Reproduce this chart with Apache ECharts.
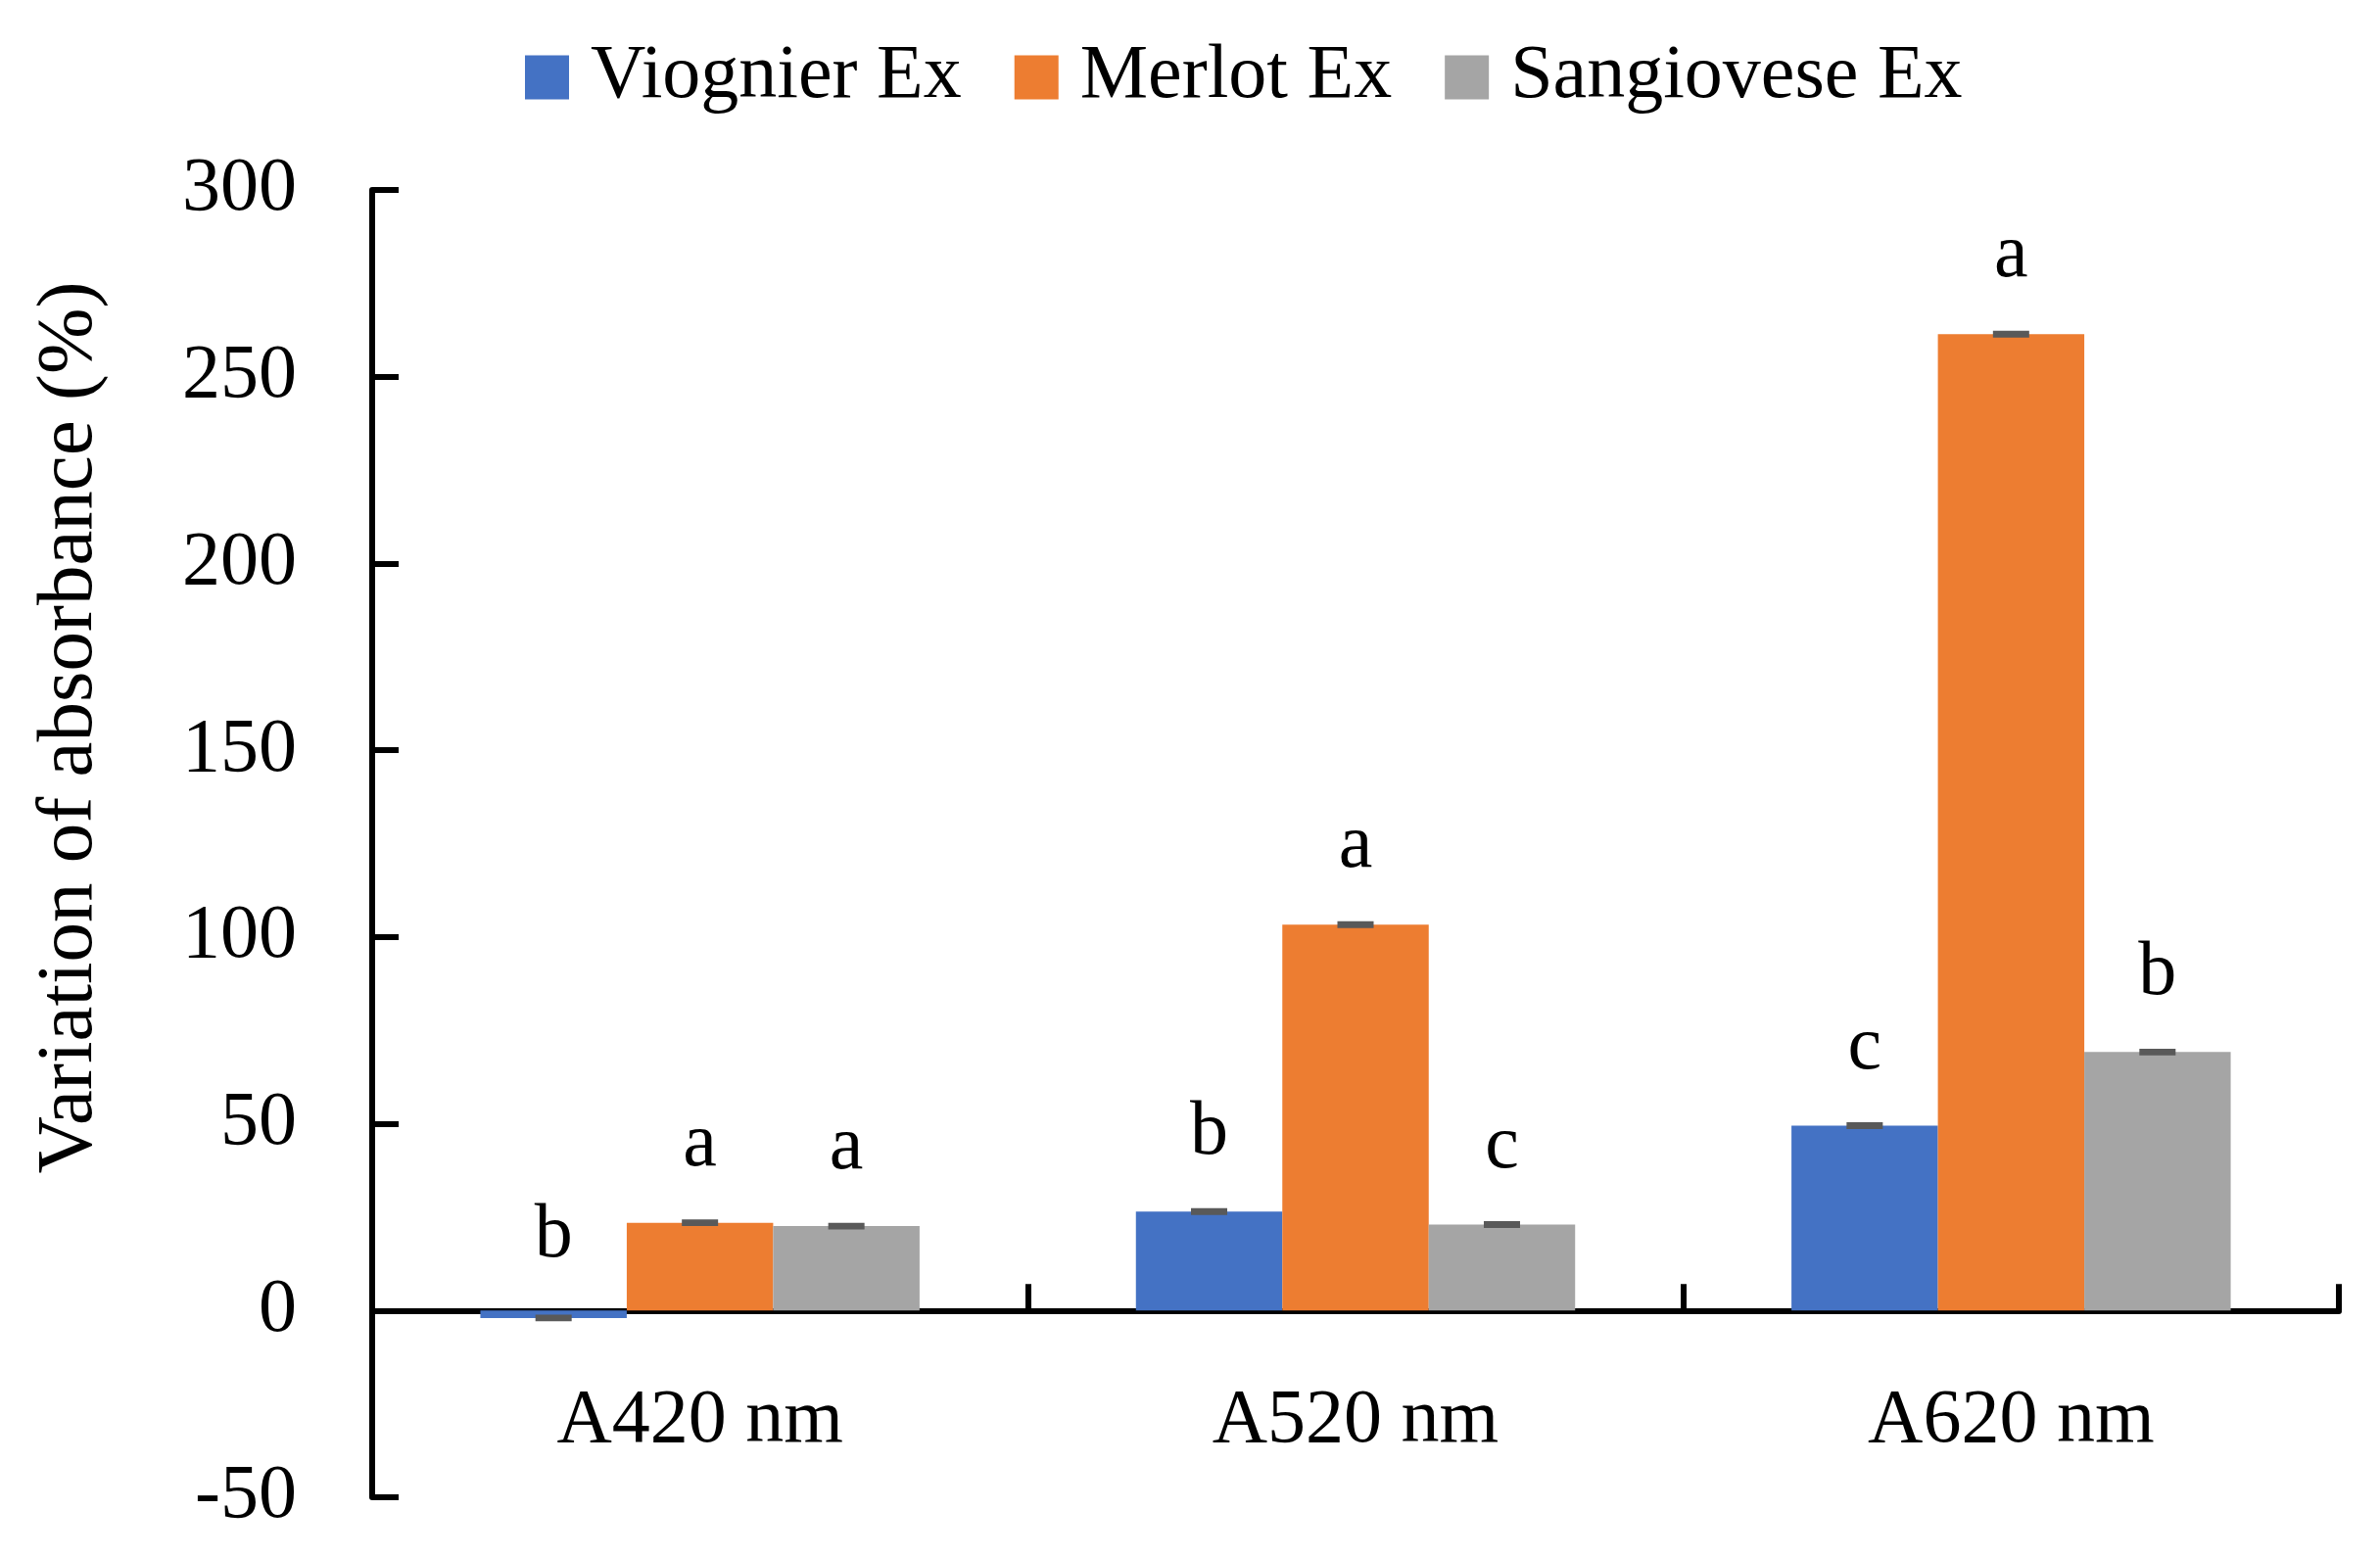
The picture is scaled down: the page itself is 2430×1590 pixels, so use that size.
<!DOCTYPE html>
<html>
<head>
<meta charset="utf-8">
<script src="https://cdn.jsdelivr.net/npm/echarts@6/dist/echarts.min.js"></script>
<style>
html,body{margin:0;padding:0;background:#fff;}
#chart{width:2430px;height:1590px;}
</style>
</head>
<body>
<div id="chart"></div>
<script>
const categories = ['A420 nm', 'A520 nm', 'A620 nm'];
const seriesNames = ['Viognier Ex', 'Merlot Ex', 'Sangiovese Ex'];
const viognier = [-2, 26.5, 49.5];
const merlot = [23.5, 103.3, 261.4];
const sangiovese = [22.6, 23, 69.2];
const errViognier = [0.9, 0.9, 0.9];
const errMerlot = [0.9, 0.9, 0.9];
const errSangiovese = [0.9, 0.9, 0.9];
const lettersViognier = ['b', 'b', 'c'];
const lettersMerlot = ['a', 'a', 'a'];
const lettersSangiovese = ['a', 'c', 'b'];
const yTicks = { min: -50, max: 300, interval: 50 };

const colors = ['#4472C4', '#ED7D31', '#A5A5A5'];
const FONT = "'Liberation Serif', 'Times New Roman', serif";
const FS = 78;
const values = [viognier, merlot, sangiovese];
const errs = [errViognier, errMerlot, errSangiovese];
const letters = [lettersViognier, lettersMerlot, lettersSangiovese];
const GAP = 0.33;
const GRID = { left: 380, right: 42, top: 194, bottom: 61 };
// distance from grid bottom (-50) up to zero line
const zeroOffset = Math.round((1590 - GRID.top - GRID.bottom) * (0 - yTicks.min) / (yTicks.max - yTicks.min));

const chart = echarts.init(document.getElementById('chart'));

function errSeries(k) {
  return {
    type: 'custom',
    name: seriesNames[k] + ' err',
    z: 5,
    data: categories.map((c, i) => [i, values[k][i], errs[k][i]]),
    renderItem: function (params, api) {
      const i = api.value(0), v = api.value(1), e = api.value(2);
      const center = api.coord([i, 0]);
      const catW = api.size([1, 0])[0];
      const bw = catW * (1 - GAP) / 3;
      const x = center[0] + (k - 1) * bw;
      const yHi = api.coord([i, v + e])[1];
      const yLo = api.coord([i, v - e])[1];
      const top = api.coord([i, Math.max(v + e, 0)])[1];
      const capW = 37;
      return {
        type: 'group',
        children: [
          { type: 'rect', shape: { x: x - capW / 2, y: yHi, width: capW, height: Math.max(yLo - yHi, 5) }, style: { fill: '#595959' } },
          { type: 'text', x: x, y: top - 37, style: { text: letters[k][params.dataIndex], font: FS + 'px ' + FONT, fill: '#000', align: 'center', verticalAlign: 'bottom' } }
        ]
      };
    }
  };
}

const barSeries = seriesNames.map((n, k) => ({
  type: 'bar',
  name: n,
  data: values[k],
  barGap: '0%',
  barCategoryGap: (GAP * 100) + '%',
  itemStyle: { color: colors[k] },
  z: 2
}));

chart.setOption({
  animation: false,
  backgroundColor: '#fff',
  legend: {
    data: seriesNames,
    left: 536,
    top: 40,
    itemWidth: 45,
    itemHeight: 45,
    itemGap: 54,
    padding: 0,
    icon: 'rect',
    textStyle: { fontFamily: FONT, fontSize: FS, color: '#000', padding: [0, 0, 0, 17] }
  },
  grid: Object.assign({ containLabel: false, outerBoundsMode: 'none' }, GRID),
  xAxis: [{
    type: 'category',
    data: categories,
    axisLine: { onZero: true, lineStyle: { color: '#000', width: 6 } },
    axisTick: { show: true, inside: true, length: 27, lineStyle: { color: '#000', width: 6 } },
    axisLabel: { show: false },
    splitLine: { show: false }
  }, {
    type: 'category',
    data: categories,
    position: 'bottom',
    offset: -zeroOffset,
    axisLine: { show: false, onZero: false },
    axisTick: { show: false },
    axisLabel: { fontFamily: FONT, fontSize: FS, color: '#000', margin: 75 },
    splitLine: { show: false }
  }],
  yAxis: {
    type: 'value',
    min: yTicks.min,
    max: yTicks.max,
    interval: yTicks.interval,
    axisLine: { show: true, onZero: false, lineStyle: { color: '#000', width: 6 } },
    axisTick: { show: true, inside: true, length: 27, lineStyle: { color: '#000', width: 6 } },
    axisLabel: { fontFamily: FONT, fontSize: FS, color: '#000', margin: 77 },
    splitLine: { show: false }
  },
  graphic: [{
    type: 'text',
    x: 72, y: 743,
    rotation: Math.PI / 2,
    style: { text: 'Variation of absorbance (%)', font: '81px ' + FONT, fill: '#000', align: 'center', verticalAlign: 'middle' }
  }],
  series: barSeries.concat([errSeries(0), errSeries(1), errSeries(2)])
});
</script>
</body>
</html>
